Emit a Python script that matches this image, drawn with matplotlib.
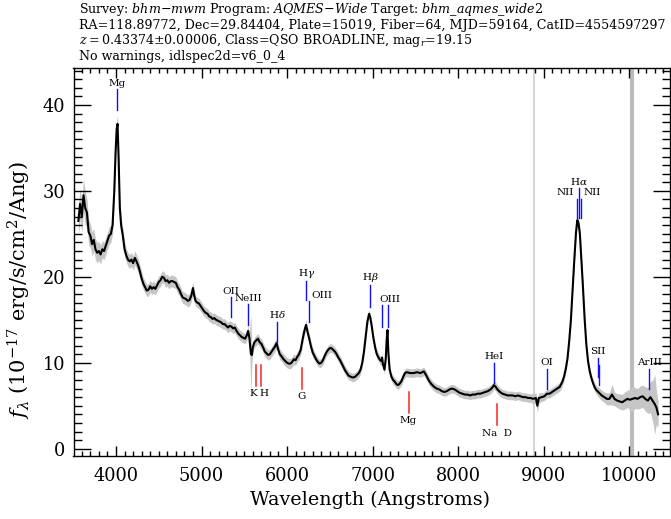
import numpy as np
import matplotlib.pyplot as plt

plt.rcParams.update(
    {
        "font.family": "DejaVu Serif",
        "mathtext.fontset": "dejavuserif",
    }
)

# ---- data ----
z = 0.43374

wave = [
    3560, 3580, 3600, 3620, 3640, 3660, 3680, 3700, 3720, 3740,
    3760, 3780, 3800, 3820, 3840, 3860, 3880, 3900, 3920, 3940,
    3960, 3980, 3995, 4008, 4018, 4030, 4045, 4060, 4080, 4100,
    4120, 4140, 4160, 4180, 4200, 4220, 4240, 4260, 4280, 4300,
    4320, 4340, 4360, 4380, 4400, 4420, 4440, 4460, 4480, 4500,
    4520, 4540, 4560, 4580, 4600, 4620, 4640, 4660, 4680, 4700,
    4720, 4740, 4760, 4780, 4800, 4820, 4840, 4860, 4880, 4900,
    4915, 4930, 4950, 4970, 4990, 5010, 5030, 5050, 5070, 5090,
    5110, 5130, 5150, 5170, 5190, 5210, 5230, 5250, 5270, 5290,
    5310, 5330, 5350, 5370, 5390, 5410, 5430, 5450, 5470, 5490,
    5510, 5530, 5545, 5560, 5578, 5590, 5600, 5620, 5640, 5660,
    5680, 5700, 5720, 5740, 5760, 5780, 5800, 5820, 5840, 5860,
    5878, 5895, 5915, 5940, 5960, 5980, 6000, 6020, 6040, 6060,
    6080, 6100, 6120, 6140, 6160, 6180, 6200, 6222, 6240, 6260,
    6280, 6300, 6320, 6340, 6360, 6380, 6400, 6420, 6440, 6460,
    6480, 6500, 6520, 6540, 6560, 6580, 6600, 6620, 6640, 6660,
    6680, 6700, 6720, 6740, 6760, 6780, 6800, 6820, 6840, 6860,
    6880, 6900, 6920, 6940, 6960, 6975, 6990, 7010, 7030, 7050,
    7070, 7090, 7105, 7112, 7122, 7140, 7155, 7165, 7175, 7185,
    7200, 7220, 7240, 7260, 7280, 7300, 7320, 7340, 7360, 7380,
    7400, 7440, 7480, 7520, 7560, 7600, 7630, 7660, 7690, 7720,
    7750, 7780, 7810, 7840, 7870, 7900, 7930, 7960, 7990, 8020,
    8050, 8080, 8110, 8140, 8170, 8200, 8230, 8260, 8290, 8320,
    8350, 8380, 8400, 8420, 8440, 8460, 8490, 8520, 8550, 8580,
    8610, 8640, 8670, 8700, 8730, 8760, 8790, 8820, 8850, 8880,
    8910, 8928, 8945, 8980, 9010, 9040, 9070, 9100, 9130, 9160,
    9190, 9220, 9240, 9260, 9280, 9300, 9320, 9340, 9360, 9380,
    9395, 9410, 9425, 9440, 9460, 9480, 9500, 9520, 9540, 9560,
    9580, 9600, 9620, 9650, 9680, 9710, 9740, 9770, 9800, 9830,
    9860, 9890, 9920, 9950, 9980, 10010, 10040, 10070, 10100, 10130,
    10160, 10190, 10220, 10250, 10280, 10300, 10320, 10340,
]

flux = [
    26.5, 28.5, 27.0, 29.5, 28.0, 27.5, 25.2, 24.8, 23.8, 24.3,
    23.2, 22.8, 23.0, 22.6, 23.2, 23.0, 23.6, 24.2, 24.8, 25.0,
    26.0, 30.0, 34.5, 37.2, 37.8, 34.0, 28.0, 26.0, 24.8, 23.2,
    22.5, 22.0, 21.8, 22.0, 21.6, 22.2, 21.8, 21.3, 20.6, 19.8,
    19.2, 18.8, 18.4, 18.5, 18.9, 18.6, 18.8, 18.6, 19.0, 19.4,
    19.6, 20.0, 19.9, 19.5, 19.6, 19.3, 19.5, 19.5, 19.4, 19.3,
    18.8, 18.5, 18.0, 17.6, 17.5, 17.4, 17.2, 17.3, 17.8, 18.7,
    17.8, 17.2, 17.0, 16.9, 16.6, 16.3, 16.0, 15.8, 15.7, 15.4,
    15.3, 15.1, 15.2, 15.0, 14.9, 14.8, 14.7, 14.5, 14.5, 14.3,
    14.1, 14.3, 14.2, 14.0, 14.1, 13.7, 13.4, 13.2, 13.0, 12.9,
    12.8, 13.2, 13.7, 12.9, 11.0, 10.9, 11.8, 12.4, 12.6, 12.8,
    12.4, 12.2, 11.8, 11.3, 11.1, 10.9, 11.0, 11.3, 11.6, 11.9,
    12.3, 11.6, 11.0, 10.7, 10.4, 10.2, 10.0, 9.9, 9.9, 10.1,
    10.4, 10.3, 10.7, 11.0, 11.5, 12.6, 13.6, 14.4, 13.6, 12.8,
    11.9, 11.2, 10.8, 10.4, 10.1, 9.9, 10.0, 10.3, 10.8, 11.2,
    11.5, 11.7, 11.7, 11.5, 11.3, 11.0, 10.6, 10.3, 9.9, 9.5,
    9.1, 8.8, 8.5, 8.4, 8.3, 8.3, 8.4, 8.6, 8.8, 9.2,
    10.0, 11.3, 13.0, 14.8, 15.7, 15.2, 14.3, 12.9, 11.8, 11.0,
    10.6, 10.3, 10.2, 10.6, 9.8, 9.2, 10.5, 12.6, 13.8, 11.2,
    9.2, 8.4, 8.0, 7.8, 7.5, 7.4, 7.6, 7.9, 8.4, 8.8,
    8.9, 8.8, 8.8, 8.9, 8.8, 9.0, 8.5, 7.9, 7.5, 7.2,
    7.0, 6.9, 6.7, 6.6, 6.7, 6.9, 7.0, 6.9, 6.7, 6.5,
    6.4, 6.3, 6.3, 6.2, 6.3, 6.3, 6.4, 6.4, 6.5, 6.6,
    6.7, 6.9, 7.1, 7.4, 7.2, 6.9, 6.6, 6.4, 6.3, 6.2,
    6.2, 6.2, 6.1, 6.2, 6.1, 6.0, 6.0, 5.9, 5.9, 5.8,
    5.9, 5.0, 5.9, 6.0, 6.1, 6.4, 6.4, 6.6, 6.8, 7.0,
    7.2, 7.8, 8.4, 9.3, 10.5, 12.5, 15.0, 18.5, 22.0, 25.2,
    26.6, 26.2, 25.0, 22.5, 19.0, 15.2, 12.2, 10.2, 9.0, 8.2,
    7.6, 7.1, 6.8, 6.5, 6.2, 6.0, 5.8, 5.8, 6.3, 5.8,
    5.6, 5.5, 5.4, 5.6, 5.8, 5.7, 5.8, 5.9, 5.8, 6.0,
    6.1, 5.8, 5.6, 6.0, 5.5, 5.2, 4.8, 4.0,
]

flux_err = [
    1.8, 1.8, 1.8, 2.0, 2.0, 1.6, 1.5, 1.4, 1.4, 1.3,
    1.2, 1.2, 1.1, 1.1, 1.0, 1.0, 1.0, 1.0, 1.0, 1.0,
    1.0, 1.0, 1.0, 1.0, 1.0, 1.0, 0.9, 0.9, 0.9, 0.9,
    0.8, 0.8, 0.8, 0.8, 0.8, 0.8, 0.8, 0.8, 0.8, 0.8,
    0.7, 0.7, 0.7, 0.7, 0.7, 0.7, 0.7, 0.7, 0.7, 0.7,
    0.7, 0.7, 0.7, 0.7, 0.7, 0.7, 0.7, 0.7, 0.7, 0.7,
    0.7, 0.7, 0.7, 0.7, 0.7, 0.7, 0.7, 0.7, 0.7, 0.7,
    0.7, 0.6, 0.6, 0.6, 0.6, 0.6, 0.6, 0.6, 0.6, 0.6,
    0.6, 0.6, 0.6, 0.6, 0.6, 0.6, 0.6, 0.6, 0.6, 0.6,
    0.6, 0.6, 0.6, 0.6, 0.6, 0.6, 0.6, 0.6, 0.6, 0.6,
    0.6, 0.6, 0.6, 0.6, 4.5, 0.8, 0.6, 0.6, 0.6, 0.6,
    0.6, 0.6, 0.6, 0.6, 0.6, 0.6, 0.6, 0.6, 0.6, 0.6,
    0.6, 0.6, 0.6, 0.6, 0.6, 0.6, 0.6, 0.6, 0.6, 0.6,
    0.6, 0.6, 0.6, 0.6, 0.6, 0.6, 0.6, 0.6, 0.6, 0.6,
    0.6, 0.6, 0.5, 0.5, 0.5, 0.5, 0.5, 0.5, 0.5, 0.5,
    0.5, 0.5, 0.5, 0.5, 0.5, 0.5, 0.5, 0.5, 0.5, 0.5,
    0.5, 0.5, 0.5, 0.5, 0.5, 0.5, 0.5, 0.5, 0.5, 0.5,
    0.5, 0.5, 0.5, 0.5, 0.5, 0.5, 0.5, 0.5, 0.5, 0.5,
    0.5, 0.5, 0.5, 0.5, 0.5, 0.5, 0.5, 0.5, 0.5, 0.5,
    0.5, 0.5, 0.5, 0.5, 0.5, 0.5, 0.5, 0.5, 0.5, 0.5,
    0.5, 0.5, 0.5, 0.5, 0.5, 0.5, 0.5, 0.5, 0.5, 0.5,
    0.5, 0.5, 0.5, 0.5, 0.5, 0.5, 0.5, 0.5, 0.5, 0.5,
    0.5, 0.5, 0.5, 0.5, 0.5, 0.5, 0.5, 0.5, 0.5, 0.5,
    0.5, 0.5, 0.5, 0.5, 0.5, 0.5, 0.5, 0.5, 0.5, 0.5,
    0.5, 0.5, 0.5, 0.5, 0.5, 0.5, 0.5, 0.5, 0.5, 0.6,
    0.6, 0.8, 0.6, 0.5, 0.5, 0.5, 0.5, 0.5, 0.5, 0.5,
    0.5, 0.5, 0.5, 0.5, 0.5, 0.5, 0.5, 0.5, 0.5, 0.5,
    0.5, 0.5, 0.5, 0.5, 0.5, 0.5, 0.5, 0.5, 0.5, 0.5,
    0.5, 0.5, 0.5, 0.6, 0.6, 0.6, 0.7, 0.7, 1.2, 0.8,
    0.8, 0.9, 0.9, 1.0, 1.0, 1.2, 1.5, 1.2, 1.2, 1.3,
    1.3, 1.4, 1.5, 1.8, 2.5, 3.5, 2.0, 1.5,
]

# wavelengths with bad pixels (full-height grey stripes)
mask_waves = [8890, 10038]

# emission lines (rest frame), marker extent in flux units, label alignment
em_names = ["Mg", "OII", "NeIII", r"H$\delta$", r"H$\gamma$", "OIII",
            r"H$\beta$", "", "OIII", "HeI", "OI",
            "NII", r"H$\alpha$", "NII", "SII", "", "ArIII"]
em_rest = [2799.49, 3727.09, 3869.85, 4102.89, 4341.68, 4364.44,
           4862.68, 4960.30, 5008.24, 5877.29, 6302.05,
           6549.86, 6564.61, 6585.27, 6718.29, 6732.67, 7137.77]
em_lo = [39.4, 15.3, 14.4, 12.4, 17.3, 14.8, 16.5, 14.2, 14.2, 7.6, 6.9,
         26.8, 26.9, 26.8, 8.3, 7.4, 6.9]
em_hi = [41.8, 17.6, 16.8, 14.8, 19.5, 17.2, 19.0, 16.7, 16.7, 10.0, 9.3,
         29.1, 30.3, 29.1, 10.6, 9.7, 9.3]
em_ha = ["center", "center", "center", "center", "center", "left",
         "center", "center", "center", "center", "center",
         "right", "center", "left", "center", "center", "center"]

# absorption lines
ab_names = ["K", "H", "G", "Mg", "Na  D"]
ab_rest = [3934.78, 3969.59, 4305.61, 5176.70, 5895.60]
ab_lo = [7.3, 7.3, 7.0, 4.1, 2.7]
ab_hi = [9.7, 9.7, 9.4, 6.6, 5.2]
ab_ha = ["right", "left", "center", "center", "center"]

header = [
    r"Survey: $\mathit{bhm{-}mwm}$ Program: $\mathit{AQMES{-}Wide}$ "
    r"Target: $\mathit{bhm\_aqmes\_wide2}$",
    "RA=118.89772, Dec=29.84404, Plate=15019, Fiber=64, MJD=59164, "
    "CatID=4554597297",
    r"$\mathit{z=0.43374{\pm}0.00006}$, Class=QSO BROADLINE, "
    r"mag$_r$=$\mathit{19.15}$",
    "No warnings, idlspec2d=v6_0_4",
]

# ---- figure ----
W, H = 671, 519
fig = plt.figure(figsize=(W / 100, H / 100), dpi=100)
ax = fig.add_axes([73.5 / W, 1 - 456 / H, (670 - 73.5) / W, (456 - 68) / H])

wave = np.array(wave)
flux = np.array(flux)
flux_err = np.array(flux_err)

for mw in mask_waves:
    ax.axvline(mw, color="#d2d2d2" if mw < 9000 else "#bcbcbc",
               lw=1.3 if mw < 9000 else 3.0, zorder=0)

ax.fill_between(wave, flux - flux_err, flux + flux_err, color="#c6c6c6",
                lw=0, zorder=1)
ax.plot(wave, flux, color="black", lw=1.5, zorder=2)

pad = 0.15
for name, rest, lo, hi, ha in zip(em_names, em_rest, em_lo, em_hi, em_ha):
    wl = rest * (1 + z)
    ax.plot([wl, wl], [lo, hi], color="#1010ff", lw=1.0, zorder=3)
    if name:
        dx = {"left": 30, "right": -30, "center": 0}[ha]
        if name == "OIII" and rest > 5000:
            dx = 20
        ax.text(wl + dx, hi + pad, name, ha=ha, va="bottom", fontsize=7.5)

for name, rest, lo, hi, ha in zip(ab_names, ab_rest, ab_lo, ab_hi, ab_ha):
    wl = rest * (1 + z)
    ax.plot([wl, wl], [lo, hi], color="#ff2020", lw=1.1, zorder=3)
    dx = {"left": -10, "right": 10, "center": 0}[ha]
    ax.text(wl + dx, lo - 0.35, name, ha=ha, va="top", fontsize=7.5)

ax.set_xlim(3503, 10479)
ax.set_ylim(-0.85, 44.3)
ax.set_xticks(np.arange(4000, 10001, 1000))
ax.set_xticks(np.arange(3600, 10401, 100), minor=True)
ax.set_yticks(np.arange(0, 41, 10))
ax.set_yticks(np.arange(0, 45, 1), minor=True)
ax.tick_params(which="both", direction="in", top=True, right=True,
               labelsize=12.8, width=1)
ax.tick_params(axis="x", which="major", length=7, pad=8)
ax.tick_params(axis="x", which="minor", length=3.5)
ax.tick_params(axis="y", which="major", length=12, pad=6)
ax.tick_params(axis="y", which="minor", length=6)
for sp in ax.spines.values():
    sp.set_linewidth(1)

fig.text(370 / W, 1 - 500 / H, "Wavelength (Angstroms)", ha="center",
         va="center", fontsize=13.8)
fig.text(19 / W, 1 - 290 / H,
         r"$f_\lambda$ (10$^{-17}$ erg/s/cm$^2$/Ang)",
         rotation=90, ha="center", va="center", fontsize=15)

for i, line in enumerate(header):
    fig.text(79 / W, 1 - (9.5 + 15.7 * i) / H, line, ha="left", va="center",
             fontsize=9.1)

fig.savefig("out.png", dpi=100)
